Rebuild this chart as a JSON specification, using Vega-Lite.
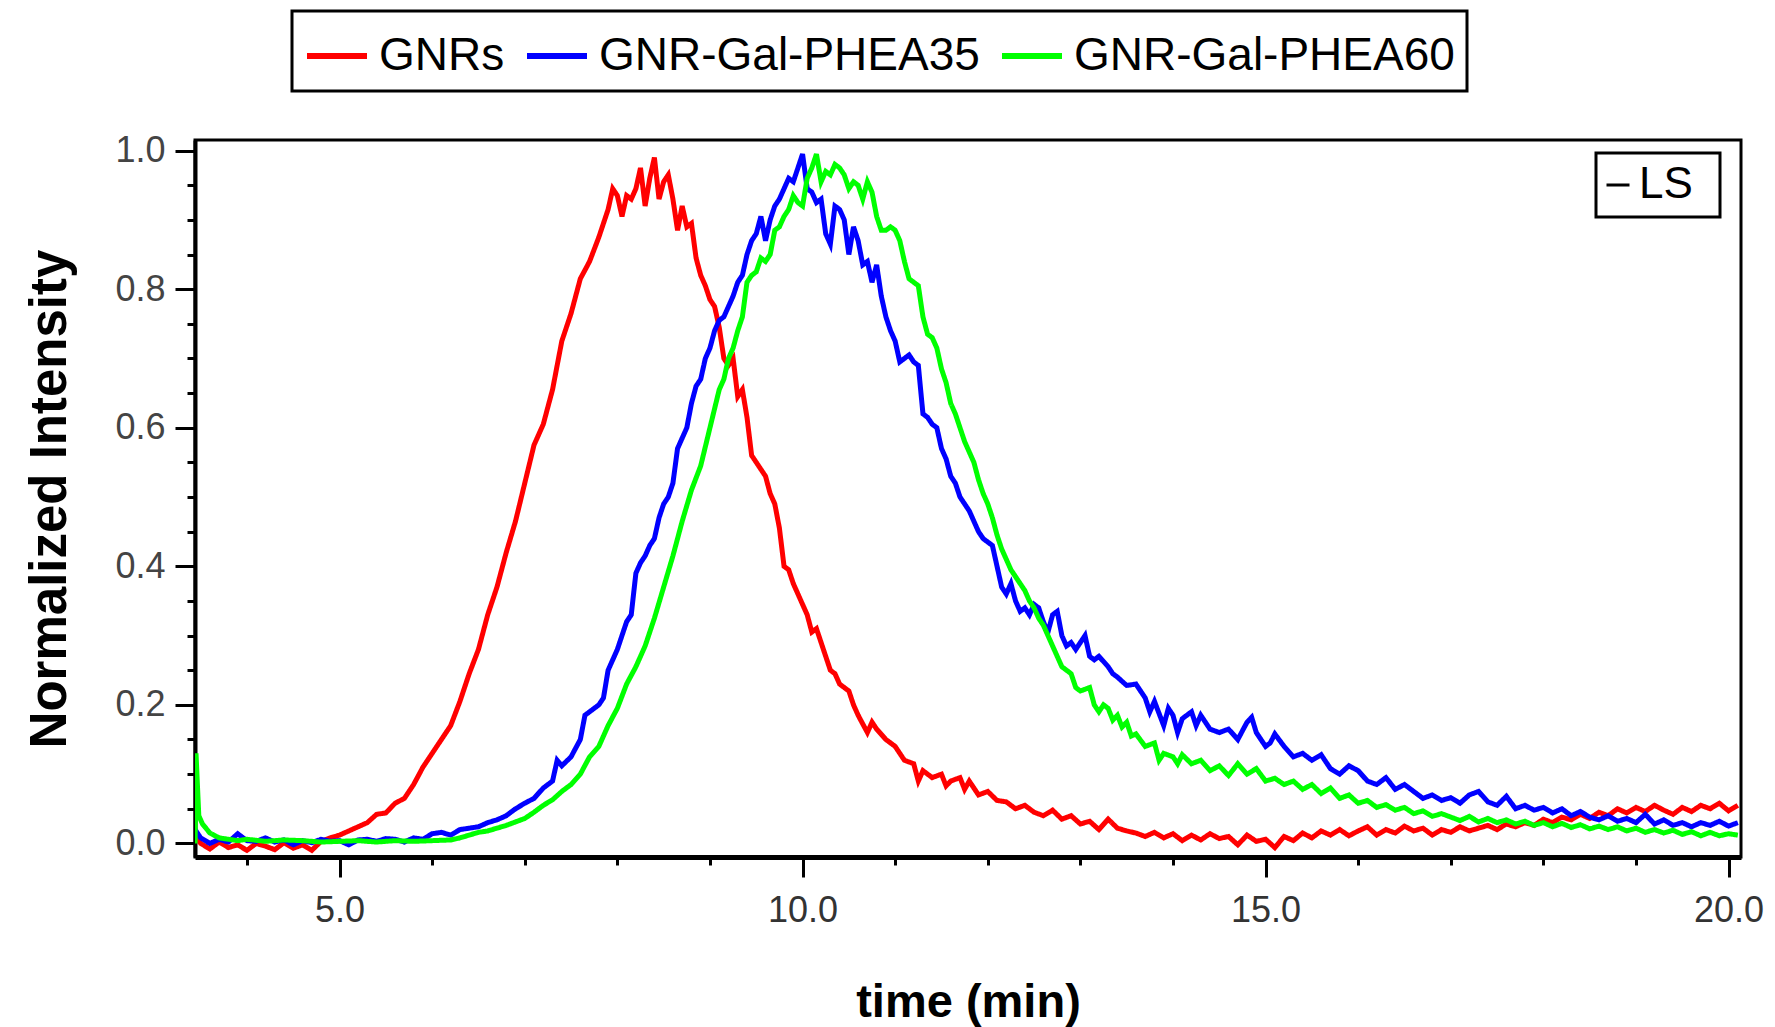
{
"$schema": "https://vega.github.io/schema/vega-lite/v6.json",
"autosize": {"type": "none"},
"padding": {"left": 195, "top": 140, "right": 34, "bottom": 170},
"width": 1546,
"height": 717,
"data": {"values": [
{"s":"GNRs","t":3.44,"v":0.012},{"s":"GNRs","t":3.5,"v":0.0},{"s":"GNRs","t":3.6,"v":-0.008},{"s":"GNRs","t":3.7,"v":0.002},{"s":"GNRs","t":3.8,"v":-0.006},{"s":"GNRs","t":3.9,"v":-0.002},{"s":"GNRs","t":4.0,"v":-0.01},{"s":"GNRs","t":4.1,"v":0.0},{"s":"GNRs","t":4.2,"v":-0.004},{"s":"GNRs","t":4.3,"v":-0.009},{"s":"GNRs","t":4.4,"v":0.001},{"s":"GNRs","t":4.5,"v":-0.007},{"s":"GNRs","t":4.6,"v":-0.002},{"s":"GNRs","t":4.7,"v":-0.01},{"s":"GNRs","t":4.8,"v":0.003},{"s":"GNRs","t":4.9,"v":0.008},{"s":"GNRs","t":5.0,"v":0.012},{"s":"GNRs","t":5.1,"v":0.018},{"s":"GNRs","t":5.2,"v":0.024},{"s":"GNRs","t":5.3,"v":0.03},{"s":"GNRs","t":5.4,"v":0.042},{"s":"GNRs","t":5.5,"v":0.044},{"s":"GNRs","t":5.6,"v":0.058},{"s":"GNRs","t":5.7,"v":0.065},{"s":"GNRs","t":5.8,"v":0.085},{"s":"GNRs","t":5.9,"v":0.11},{"s":"GNRs","t":6.0,"v":0.13},{"s":"GNRs","t":6.1,"v":0.15},{"s":"GNRs","t":6.2,"v":0.17},{"s":"GNRs","t":6.3,"v":0.205},{"s":"GNRs","t":6.4,"v":0.245},{"s":"GNRs","t":6.5,"v":0.28},{"s":"GNRs","t":6.6,"v":0.33},{"s":"GNRs","t":6.7,"v":0.37},{"s":"GNRs","t":6.8,"v":0.42},{"s":"GNRs","t":6.9,"v":0.465},{"s":"GNRs","t":7.0,"v":0.52},{"s":"GNRs","t":7.1,"v":0.575},{"s":"GNRs","t":7.2,"v":0.605},{"s":"GNRs","t":7.3,"v":0.655},{"s":"GNRs","t":7.4,"v":0.725},{"s":"GNRs","t":7.5,"v":0.765},{"s":"GNRs","t":7.6,"v":0.815},{"s":"GNRs","t":7.7,"v":0.84},{"s":"GNRs","t":7.8,"v":0.875},{"s":"GNRs","t":7.9,"v":0.915},{"s":"GNRs","t":7.95,"v":0.945},{"s":"GNRs","t":8.0,"v":0.935},{"s":"GNRs","t":8.05,"v":0.905},{"s":"GNRs","t":8.1,"v":0.935},{"s":"GNRs","t":8.15,"v":0.93},{"s":"GNRs","t":8.2,"v":0.945},{"s":"GNRs","t":8.25,"v":0.975},{"s":"GNRs","t":8.3,"v":0.92},{"s":"GNRs","t":8.35,"v":0.96},{"s":"GNRs","t":8.4,"v":0.99},{"s":"GNRs","t":8.45,"v":0.93},{"s":"GNRs","t":8.5,"v":0.955},{"s":"GNRs","t":8.55,"v":0.965},{"s":"GNRs","t":8.6,"v":0.93},{"s":"GNRs","t":8.65,"v":0.885},{"s":"GNRs","t":8.7,"v":0.92},{"s":"GNRs","t":8.75,"v":0.89},{"s":"GNRs","t":8.8,"v":0.895},{"s":"GNRs","t":8.85,"v":0.845},{"s":"GNRs","t":8.9,"v":0.82},{"s":"GNRs","t":8.95,"v":0.805},{"s":"GNRs","t":9.0,"v":0.785},{"s":"GNRs","t":9.05,"v":0.775},{"s":"GNRs","t":9.1,"v":0.745},{"s":"GNRs","t":9.15,"v":0.7},{"s":"GNRs","t":9.2,"v":0.69},{"s":"GNRs","t":9.25,"v":0.7},{"s":"GNRs","t":9.3,"v":0.645},{"s":"GNRs","t":9.35,"v":0.655},{"s":"GNRs","t":9.4,"v":0.615},{"s":"GNRs","t":9.45,"v":0.56},{"s":"GNRs","t":9.5,"v":0.55},{"s":"GNRs","t":9.55,"v":0.54},{"s":"GNRs","t":9.6,"v":0.53},{"s":"GNRs","t":9.65,"v":0.505},{"s":"GNRs","t":9.7,"v":0.49},{"s":"GNRs","t":9.75,"v":0.455},{"s":"GNRs","t":9.8,"v":0.4},{"s":"GNRs","t":9.85,"v":0.395},{"s":"GNRs","t":9.9,"v":0.375},{"s":"GNRs","t":9.95,"v":0.36},{"s":"GNRs","t":10.0,"v":0.345},{"s":"GNRs","t":10.05,"v":0.33},{"s":"GNRs","t":10.1,"v":0.305},{"s":"GNRs","t":10.15,"v":0.31},{"s":"GNRs","t":10.2,"v":0.29},{"s":"GNRs","t":10.25,"v":0.27},{"s":"GNRs","t":10.3,"v":0.25},{"s":"GNRs","t":10.35,"v":0.245},{"s":"GNRs","t":10.4,"v":0.23},{"s":"GNRs","t":10.5,"v":0.22},{"s":"GNRs","t":10.55,"v":0.2},{"s":"GNRs","t":10.6,"v":0.185},{"s":"GNRs","t":10.7,"v":0.16},{"s":"GNRs","t":10.75,"v":0.175},{"s":"GNRs","t":10.8,"v":0.165},{"s":"GNRs","t":10.9,"v":0.15},{"s":"GNRs","t":11.0,"v":0.14},{"s":"GNRs","t":11.1,"v":0.12},{"s":"GNRs","t":11.2,"v":0.115},{"s":"GNRs","t":11.25,"v":0.09},{"s":"GNRs","t":11.3,"v":0.105},{"s":"GNRs","t":11.4,"v":0.095},{"s":"GNRs","t":11.5,"v":0.1},{"s":"GNRs","t":11.55,"v":0.083},{"s":"GNRs","t":11.6,"v":0.09},{"s":"GNRs","t":11.7,"v":0.095},{"s":"GNRs","t":11.75,"v":0.078},{"s":"GNRs","t":11.8,"v":0.09},{"s":"GNRs","t":11.9,"v":0.07},{"s":"GNRs","t":12.0,"v":0.075},{"s":"GNRs","t":12.1,"v":0.062},{"s":"GNRs","t":12.2,"v":0.06},{"s":"GNRs","t":12.3,"v":0.05},{"s":"GNRs","t":12.4,"v":0.055},{"s":"GNRs","t":12.5,"v":0.045},{"s":"GNRs","t":12.6,"v":0.04},{"s":"GNRs","t":12.7,"v":0.048},{"s":"GNRs","t":12.8,"v":0.035},{"s":"GNRs","t":12.9,"v":0.04},{"s":"GNRs","t":13.0,"v":0.028},{"s":"GNRs","t":13.1,"v":0.032},{"s":"GNRs","t":13.2,"v":0.02},{"s":"GNRs","t":13.3,"v":0.035},{"s":"GNRs","t":13.4,"v":0.022},{"s":"GNRs","t":13.5,"v":0.018},{"s":"GNRs","t":13.6,"v":0.015},{"s":"GNRs","t":13.7,"v":0.01},{"s":"GNRs","t":13.8,"v":0.016},{"s":"GNRs","t":13.9,"v":0.008},{"s":"GNRs","t":14.0,"v":0.014},{"s":"GNRs","t":14.1,"v":0.004},{"s":"GNRs","t":14.2,"v":0.012},{"s":"GNRs","t":14.3,"v":0.005},{"s":"GNRs","t":14.4,"v":0.014},{"s":"GNRs","t":14.5,"v":0.007},{"s":"GNRs","t":14.6,"v":0.01},{"s":"GNRs","t":14.7,"v":-0.002},{"s":"GNRs","t":14.8,"v":0.012},{"s":"GNRs","t":14.9,"v":0.003},{"s":"GNRs","t":15.0,"v":0.006},{"s":"GNRs","t":15.1,"v":-0.006},{"s":"GNRs","t":15.2,"v":0.01},{"s":"GNRs","t":15.3,"v":0.004},{"s":"GNRs","t":15.4,"v":0.015},{"s":"GNRs","t":15.5,"v":0.008},{"s":"GNRs","t":15.6,"v":0.018},{"s":"GNRs","t":15.7,"v":0.012},{"s":"GNRs","t":15.8,"v":0.02},{"s":"GNRs","t":15.9,"v":0.011},{"s":"GNRs","t":16.0,"v":0.018},{"s":"GNRs","t":16.1,"v":0.024},{"s":"GNRs","t":16.2,"v":0.012},{"s":"GNRs","t":16.3,"v":0.02},{"s":"GNRs","t":16.4,"v":0.015},{"s":"GNRs","t":16.5,"v":0.025},{"s":"GNRs","t":16.6,"v":0.018},{"s":"GNRs","t":16.7,"v":0.022},{"s":"GNRs","t":16.8,"v":0.012},{"s":"GNRs","t":16.9,"v":0.02},{"s":"GNRs","t":17.0,"v":0.016},{"s":"GNRs","t":17.1,"v":0.024},{"s":"GNRs","t":17.2,"v":0.018},{"s":"GNRs","t":17.3,"v":0.022},{"s":"GNRs","t":17.4,"v":0.026},{"s":"GNRs","t":17.5,"v":0.02},{"s":"GNRs","t":17.6,"v":0.028},{"s":"GNRs","t":17.7,"v":0.024},{"s":"GNRs","t":17.8,"v":0.03},{"s":"GNRs","t":17.9,"v":0.026},{"s":"GNRs","t":18.0,"v":0.035},{"s":"GNRs","t":18.1,"v":0.03},{"s":"GNRs","t":18.2,"v":0.038},{"s":"GNRs","t":18.3,"v":0.034},{"s":"GNRs","t":18.4,"v":0.042},{"s":"GNRs","t":18.5,"v":0.036},{"s":"GNRs","t":18.6,"v":0.045},{"s":"GNRs","t":18.7,"v":0.04},{"s":"GNRs","t":18.8,"v":0.05},{"s":"GNRs","t":18.9,"v":0.044},{"s":"GNRs","t":19.0,"v":0.052},{"s":"GNRs","t":19.1,"v":0.046},{"s":"GNRs","t":19.2,"v":0.055},{"s":"GNRs","t":19.3,"v":0.048},{"s":"GNRs","t":19.4,"v":0.042},{"s":"GNRs","t":19.5,"v":0.052},{"s":"GNRs","t":19.6,"v":0.046},{"s":"GNRs","t":19.7,"v":0.055},{"s":"GNRs","t":19.8,"v":0.05},{"s":"GNRs","t":19.9,"v":0.058},{"s":"GNRs","t":20.0,"v":0.047},{"s":"GNRs","t":20.1,"v":0.055},
{"s":"GNR-Gal-PHEA35","t":3.44,"v":0.02},{"s":"GNR-Gal-PHEA35","t":3.5,"v":0.008},{"s":"GNR-Gal-PHEA35","t":3.6,"v":0.0},{"s":"GNR-Gal-PHEA35","t":3.7,"v":0.006},{"s":"GNR-Gal-PHEA35","t":3.8,"v":0.002},{"s":"GNR-Gal-PHEA35","t":3.9,"v":0.014},{"s":"GNR-Gal-PHEA35","t":4.0,"v":0.004},{"s":"GNR-Gal-PHEA35","t":4.1,"v":0.003},{"s":"GNR-Gal-PHEA35","t":4.2,"v":0.008},{"s":"GNR-Gal-PHEA35","t":4.3,"v":0.002},{"s":"GNR-Gal-PHEA35","t":4.4,"v":0.005},{"s":"GNR-Gal-PHEA35","t":4.5,"v":-0.002},{"s":"GNR-Gal-PHEA35","t":4.6,"v":0.004},{"s":"GNR-Gal-PHEA35","t":4.7,"v":0.001},{"s":"GNR-Gal-PHEA35","t":4.8,"v":0.006},{"s":"GNR-Gal-PHEA35","t":4.9,"v":0.003},{"s":"GNR-Gal-PHEA35","t":5.0,"v":0.004},{"s":"GNR-Gal-PHEA35","t":5.1,"v":-0.002},{"s":"GNR-Gal-PHEA35","t":5.2,"v":0.005},{"s":"GNR-Gal-PHEA35","t":5.3,"v":0.006},{"s":"GNR-Gal-PHEA35","t":5.4,"v":0.003},{"s":"GNR-Gal-PHEA35","t":5.5,"v":0.007},{"s":"GNR-Gal-PHEA35","t":5.6,"v":0.006},{"s":"GNR-Gal-PHEA35","t":5.7,"v":0.002},{"s":"GNR-Gal-PHEA35","t":5.8,"v":0.008},{"s":"GNR-Gal-PHEA35","t":5.9,"v":0.006},{"s":"GNR-Gal-PHEA35","t":6.0,"v":0.014},{"s":"GNR-Gal-PHEA35","t":6.1,"v":0.016},{"s":"GNR-Gal-PHEA35","t":6.2,"v":0.012},{"s":"GNR-Gal-PHEA35","t":6.3,"v":0.02},{"s":"GNR-Gal-PHEA35","t":6.4,"v":0.022},{"s":"GNR-Gal-PHEA35","t":6.5,"v":0.024},{"s":"GNR-Gal-PHEA35","t":6.6,"v":0.03},{"s":"GNR-Gal-PHEA35","t":6.7,"v":0.034},{"s":"GNR-Gal-PHEA35","t":6.8,"v":0.04},{"s":"GNR-Gal-PHEA35","t":6.9,"v":0.05},{"s":"GNR-Gal-PHEA35","t":7.0,"v":0.058},{"s":"GNR-Gal-PHEA35","t":7.1,"v":0.065},{"s":"GNR-Gal-PHEA35","t":7.2,"v":0.08},{"s":"GNR-Gal-PHEA35","t":7.3,"v":0.09},{"s":"GNR-Gal-PHEA35","t":7.35,"v":0.12},{"s":"GNR-Gal-PHEA35","t":7.4,"v":0.112},{"s":"GNR-Gal-PHEA35","t":7.5,"v":0.125},{"s":"GNR-Gal-PHEA35","t":7.6,"v":0.15},{"s":"GNR-Gal-PHEA35","t":7.65,"v":0.185},{"s":"GNR-Gal-PHEA35","t":7.7,"v":0.19},{"s":"GNR-Gal-PHEA35","t":7.8,"v":0.2},{"s":"GNR-Gal-PHEA35","t":7.85,"v":0.21},{"s":"GNR-Gal-PHEA35","t":7.9,"v":0.25},{"s":"GNR-Gal-PHEA35","t":8.0,"v":0.28},{"s":"GNR-Gal-PHEA35","t":8.05,"v":0.3},{"s":"GNR-Gal-PHEA35","t":8.1,"v":0.32},{"s":"GNR-Gal-PHEA35","t":8.15,"v":0.33},{"s":"GNR-Gal-PHEA35","t":8.2,"v":0.39},{"s":"GNR-Gal-PHEA35","t":8.25,"v":0.405},{"s":"GNR-Gal-PHEA35","t":8.3,"v":0.415},{"s":"GNR-Gal-PHEA35","t":8.35,"v":0.43},{"s":"GNR-Gal-PHEA35","t":8.4,"v":0.44},{"s":"GNR-Gal-PHEA35","t":8.45,"v":0.47},{"s":"GNR-Gal-PHEA35","t":8.5,"v":0.49},{"s":"GNR-Gal-PHEA35","t":8.55,"v":0.5},{"s":"GNR-Gal-PHEA35","t":8.6,"v":0.52},{"s":"GNR-Gal-PHEA35","t":8.65,"v":0.57},{"s":"GNR-Gal-PHEA35","t":8.7,"v":0.585},{"s":"GNR-Gal-PHEA35","t":8.75,"v":0.6},{"s":"GNR-Gal-PHEA35","t":8.8,"v":0.635},{"s":"GNR-Gal-PHEA35","t":8.85,"v":0.66},{"s":"GNR-Gal-PHEA35","t":8.9,"v":0.67},{"s":"GNR-Gal-PHEA35","t":8.95,"v":0.7},{"s":"GNR-Gal-PHEA35","t":9.0,"v":0.715},{"s":"GNR-Gal-PHEA35","t":9.05,"v":0.74},{"s":"GNR-Gal-PHEA35","t":9.1,"v":0.755},{"s":"GNR-Gal-PHEA35","t":9.15,"v":0.76},{"s":"GNR-Gal-PHEA35","t":9.2,"v":0.775},{"s":"GNR-Gal-PHEA35","t":9.25,"v":0.79},{"s":"GNR-Gal-PHEA35","t":9.3,"v":0.81},{"s":"GNR-Gal-PHEA35","t":9.35,"v":0.82},{"s":"GNR-Gal-PHEA35","t":9.4,"v":0.85},{"s":"GNR-Gal-PHEA35","t":9.45,"v":0.87},{"s":"GNR-Gal-PHEA35","t":9.5,"v":0.88},{"s":"GNR-Gal-PHEA35","t":9.55,"v":0.905},{"s":"GNR-Gal-PHEA35","t":9.6,"v":0.87},{"s":"GNR-Gal-PHEA35","t":9.65,"v":0.9},{"s":"GNR-Gal-PHEA35","t":9.7,"v":0.92},{"s":"GNR-Gal-PHEA35","t":9.75,"v":0.93},{"s":"GNR-Gal-PHEA35","t":9.8,"v":0.945},{"s":"GNR-Gal-PHEA35","t":9.85,"v":0.96},{"s":"GNR-Gal-PHEA35","t":9.9,"v":0.955},{"s":"GNR-Gal-PHEA35","t":9.95,"v":0.975},{"s":"GNR-Gal-PHEA35","t":10.0,"v":0.995},{"s":"GNR-Gal-PHEA35","t":10.05,"v":0.945},{"s":"GNR-Gal-PHEA35","t":10.1,"v":0.94},{"s":"GNR-Gal-PHEA35","t":10.15,"v":0.925},{"s":"GNR-Gal-PHEA35","t":10.2,"v":0.93},{"s":"GNR-Gal-PHEA35","t":10.25,"v":0.88},{"s":"GNR-Gal-PHEA35","t":10.3,"v":0.865},{"s":"GNR-Gal-PHEA35","t":10.35,"v":0.92},{"s":"GNR-Gal-PHEA35","t":10.4,"v":0.915},{"s":"GNR-Gal-PHEA35","t":10.45,"v":0.9},{"s":"GNR-Gal-PHEA35","t":10.5,"v":0.85},{"s":"GNR-Gal-PHEA35","t":10.55,"v":0.89},{"s":"GNR-Gal-PHEA35","t":10.6,"v":0.87},{"s":"GNR-Gal-PHEA35","t":10.65,"v":0.835},{"s":"GNR-Gal-PHEA35","t":10.7,"v":0.84},{"s":"GNR-Gal-PHEA35","t":10.75,"v":0.81},{"s":"GNR-Gal-PHEA35","t":10.8,"v":0.835},{"s":"GNR-Gal-PHEA35","t":10.85,"v":0.79},{"s":"GNR-Gal-PHEA35","t":10.9,"v":0.76},{"s":"GNR-Gal-PHEA35","t":10.95,"v":0.74},{"s":"GNR-Gal-PHEA35","t":11.0,"v":0.725},{"s":"GNR-Gal-PHEA35","t":11.05,"v":0.695},{"s":"GNR-Gal-PHEA35","t":11.1,"v":0.7},{"s":"GNR-Gal-PHEA35","t":11.15,"v":0.705},{"s":"GNR-Gal-PHEA35","t":11.2,"v":0.695},{"s":"GNR-Gal-PHEA35","t":11.25,"v":0.69},{"s":"GNR-Gal-PHEA35","t":11.3,"v":0.62},{"s":"GNR-Gal-PHEA35","t":11.35,"v":0.615},{"s":"GNR-Gal-PHEA35","t":11.4,"v":0.605},{"s":"GNR-Gal-PHEA35","t":11.45,"v":0.6},{"s":"GNR-Gal-PHEA35","t":11.5,"v":0.57},{"s":"GNR-Gal-PHEA35","t":11.55,"v":0.555},{"s":"GNR-Gal-PHEA35","t":11.6,"v":0.53},{"s":"GNR-Gal-PHEA35","t":11.65,"v":0.52},{"s":"GNR-Gal-PHEA35","t":11.7,"v":0.5},{"s":"GNR-Gal-PHEA35","t":11.75,"v":0.49},{"s":"GNR-Gal-PHEA35","t":11.8,"v":0.48},{"s":"GNR-Gal-PHEA35","t":11.85,"v":0.465},{"s":"GNR-Gal-PHEA35","t":11.9,"v":0.45},{"s":"GNR-Gal-PHEA35","t":11.95,"v":0.44},{"s":"GNR-Gal-PHEA35","t":12.0,"v":0.435},{"s":"GNR-Gal-PHEA35","t":12.05,"v":0.43},{"s":"GNR-Gal-PHEA35","t":12.1,"v":0.4},{"s":"GNR-Gal-PHEA35","t":12.15,"v":0.37},{"s":"GNR-Gal-PHEA35","t":12.2,"v":0.36},{"s":"GNR-Gal-PHEA35","t":12.25,"v":0.375},{"s":"GNR-Gal-PHEA35","t":12.3,"v":0.35},{"s":"GNR-Gal-PHEA35","t":12.35,"v":0.335},{"s":"GNR-Gal-PHEA35","t":12.4,"v":0.34},{"s":"GNR-Gal-PHEA35","t":12.45,"v":0.33},{"s":"GNR-Gal-PHEA35","t":12.5,"v":0.345},{"s":"GNR-Gal-PHEA35","t":12.55,"v":0.34},{"s":"GNR-Gal-PHEA35","t":12.6,"v":0.32},{"s":"GNR-Gal-PHEA35","t":12.65,"v":0.305},{"s":"GNR-Gal-PHEA35","t":12.7,"v":0.33},{"s":"GNR-Gal-PHEA35","t":12.75,"v":0.335},{"s":"GNR-Gal-PHEA35","t":12.8,"v":0.3},{"s":"GNR-Gal-PHEA35","t":12.85,"v":0.285},{"s":"GNR-Gal-PHEA35","t":12.9,"v":0.29},{"s":"GNR-Gal-PHEA35","t":12.95,"v":0.28},{"s":"GNR-Gal-PHEA35","t":13.0,"v":0.29},{"s":"GNR-Gal-PHEA35","t":13.05,"v":0.3},{"s":"GNR-Gal-PHEA35","t":13.1,"v":0.27},{"s":"GNR-Gal-PHEA35","t":13.15,"v":0.265},{"s":"GNR-Gal-PHEA35","t":13.2,"v":0.27},{"s":"GNR-Gal-PHEA35","t":13.3,"v":0.255},{"s":"GNR-Gal-PHEA35","t":13.35,"v":0.245},{"s":"GNR-Gal-PHEA35","t":13.4,"v":0.24},{"s":"GNR-Gal-PHEA35","t":13.5,"v":0.228},{"s":"GNR-Gal-PHEA35","t":13.6,"v":0.23},{"s":"GNR-Gal-PHEA35","t":13.7,"v":0.21},{"s":"GNR-Gal-PHEA35","t":13.75,"v":0.19},{"s":"GNR-Gal-PHEA35","t":13.8,"v":0.205},{"s":"GNR-Gal-PHEA35","t":13.9,"v":0.17},{"s":"GNR-Gal-PHEA35","t":13.95,"v":0.195},{"s":"GNR-Gal-PHEA35","t":14.0,"v":0.185},{"s":"GNR-Gal-PHEA35","t":14.05,"v":0.16},{"s":"GNR-Gal-PHEA35","t":14.1,"v":0.18},{"s":"GNR-Gal-PHEA35","t":14.2,"v":0.19},{"s":"GNR-Gal-PHEA35","t":14.25,"v":0.17},{"s":"GNR-Gal-PHEA35","t":14.3,"v":0.185},{"s":"GNR-Gal-PHEA35","t":14.4,"v":0.165},{"s":"GNR-Gal-PHEA35","t":14.5,"v":0.16},{"s":"GNR-Gal-PHEA35","t":14.6,"v":0.165},{"s":"GNR-Gal-PHEA35","t":14.7,"v":0.15},{"s":"GNR-Gal-PHEA35","t":14.8,"v":0.175},{"s":"GNR-Gal-PHEA35","t":14.85,"v":0.182},{"s":"GNR-Gal-PHEA35","t":14.9,"v":0.16},{"s":"GNR-Gal-PHEA35","t":15.0,"v":0.14},{"s":"GNR-Gal-PHEA35","t":15.05,"v":0.145},{"s":"GNR-Gal-PHEA35","t":15.1,"v":0.158},{"s":"GNR-Gal-PHEA35","t":15.2,"v":0.14},{"s":"GNR-Gal-PHEA35","t":15.3,"v":0.125},{"s":"GNR-Gal-PHEA35","t":15.4,"v":0.13},{"s":"GNR-Gal-PHEA35","t":15.5,"v":0.12},{"s":"GNR-Gal-PHEA35","t":15.6,"v":0.128},{"s":"GNR-Gal-PHEA35","t":15.7,"v":0.108},{"s":"GNR-Gal-PHEA35","t":15.8,"v":0.1},{"s":"GNR-Gal-PHEA35","t":15.9,"v":0.112},{"s":"GNR-Gal-PHEA35","t":16.0,"v":0.105},{"s":"GNR-Gal-PHEA35","t":16.1,"v":0.09},{"s":"GNR-Gal-PHEA35","t":16.2,"v":0.085},{"s":"GNR-Gal-PHEA35","t":16.3,"v":0.095},{"s":"GNR-Gal-PHEA35","t":16.4,"v":0.078},{"s":"GNR-Gal-PHEA35","t":16.5,"v":0.085},{"s":"GNR-Gal-PHEA35","t":16.6,"v":0.075},{"s":"GNR-Gal-PHEA35","t":16.7,"v":0.065},{"s":"GNR-Gal-PHEA35","t":16.8,"v":0.07},{"s":"GNR-Gal-PHEA35","t":16.9,"v":0.062},{"s":"GNR-Gal-PHEA35","t":17.0,"v":0.066},{"s":"GNR-Gal-PHEA35","t":17.1,"v":0.058},{"s":"GNR-Gal-PHEA35","t":17.2,"v":0.07},{"s":"GNR-Gal-PHEA35","t":17.3,"v":0.075},{"s":"GNR-Gal-PHEA35","t":17.4,"v":0.06},{"s":"GNR-Gal-PHEA35","t":17.5,"v":0.055},{"s":"GNR-Gal-PHEA35","t":17.6,"v":0.068},{"s":"GNR-Gal-PHEA35","t":17.7,"v":0.05},{"s":"GNR-Gal-PHEA35","t":17.8,"v":0.055},{"s":"GNR-Gal-PHEA35","t":17.9,"v":0.048},{"s":"GNR-Gal-PHEA35","t":18.0,"v":0.052},{"s":"GNR-Gal-PHEA35","t":18.1,"v":0.044},{"s":"GNR-Gal-PHEA35","t":18.2,"v":0.05},{"s":"GNR-Gal-PHEA35","t":18.3,"v":0.04},{"s":"GNR-Gal-PHEA35","t":18.4,"v":0.046},{"s":"GNR-Gal-PHEA35","t":18.5,"v":0.038},{"s":"GNR-Gal-PHEA35","t":18.6,"v":0.034},{"s":"GNR-Gal-PHEA35","t":18.7,"v":0.04},{"s":"GNR-Gal-PHEA35","t":18.8,"v":0.032},{"s":"GNR-Gal-PHEA35","t":18.9,"v":0.036},{"s":"GNR-Gal-PHEA35","t":19.0,"v":0.03},{"s":"GNR-Gal-PHEA35","t":19.1,"v":0.042},{"s":"GNR-Gal-PHEA35","t":19.2,"v":0.028},{"s":"GNR-Gal-PHEA35","t":19.3,"v":0.034},{"s":"GNR-Gal-PHEA35","t":19.4,"v":0.026},{"s":"GNR-Gal-PHEA35","t":19.5,"v":0.03},{"s":"GNR-Gal-PHEA35","t":19.6,"v":0.024},{"s":"GNR-Gal-PHEA35","t":19.7,"v":0.03},{"s":"GNR-Gal-PHEA35","t":19.8,"v":0.026},{"s":"GNR-Gal-PHEA35","t":19.9,"v":0.032},{"s":"GNR-Gal-PHEA35","t":20.0,"v":0.025},{"s":"GNR-Gal-PHEA35","t":20.1,"v":0.03},
{"s":"GNR-Gal-PHEA60","t":3.44,"v":0.0},{"s":"GNR-Gal-PHEA60","t":3.45,"v":0.13},{"s":"GNR-Gal-PHEA60","t":3.48,"v":0.04},{"s":"GNR-Gal-PHEA60","t":3.52,"v":0.028},{"s":"GNR-Gal-PHEA60","t":3.6,"v":0.015},{"s":"GNR-Gal-PHEA60","t":3.7,"v":0.008},{"s":"GNR-Gal-PHEA60","t":3.8,"v":0.006},{"s":"GNR-Gal-PHEA60","t":3.9,"v":0.004},{"s":"GNR-Gal-PHEA60","t":4.0,"v":0.006},{"s":"GNR-Gal-PHEA60","t":4.2,"v":0.003},{"s":"GNR-Gal-PHEA60","t":4.4,"v":0.005},{"s":"GNR-Gal-PHEA60","t":4.6,"v":0.004},{"s":"GNR-Gal-PHEA60","t":4.8,"v":0.002},{"s":"GNR-Gal-PHEA60","t":5.0,"v":0.003},{"s":"GNR-Gal-PHEA60","t":5.2,"v":0.004},{"s":"GNR-Gal-PHEA60","t":5.4,"v":0.002},{"s":"GNR-Gal-PHEA60","t":5.6,"v":0.004},{"s":"GNR-Gal-PHEA60","t":5.8,"v":0.003},{"s":"GNR-Gal-PHEA60","t":6.0,"v":0.004},{"s":"GNR-Gal-PHEA60","t":6.2,"v":0.005},{"s":"GNR-Gal-PHEA60","t":6.3,"v":0.008},{"s":"GNR-Gal-PHEA60","t":6.4,"v":0.012},{"s":"GNR-Gal-PHEA60","t":6.5,"v":0.016},{"s":"GNR-Gal-PHEA60","t":6.6,"v":0.018},{"s":"GNR-Gal-PHEA60","t":6.7,"v":0.022},{"s":"GNR-Gal-PHEA60","t":6.8,"v":0.026},{"s":"GNR-Gal-PHEA60","t":6.9,"v":0.031},{"s":"GNR-Gal-PHEA60","t":7.0,"v":0.036},{"s":"GNR-Gal-PHEA60","t":7.1,"v":0.045},{"s":"GNR-Gal-PHEA60","t":7.2,"v":0.055},{"s":"GNR-Gal-PHEA60","t":7.3,"v":0.063},{"s":"GNR-Gal-PHEA60","t":7.4,"v":0.075},{"s":"GNR-Gal-PHEA60","t":7.5,"v":0.085},{"s":"GNR-Gal-PHEA60","t":7.6,"v":0.1},{"s":"GNR-Gal-PHEA60","t":7.7,"v":0.125},{"s":"GNR-Gal-PHEA60","t":7.8,"v":0.14},{"s":"GNR-Gal-PHEA60","t":7.9,"v":0.17},{"s":"GNR-Gal-PHEA60","t":8.0,"v":0.195},{"s":"GNR-Gal-PHEA60","t":8.1,"v":0.23},{"s":"GNR-Gal-PHEA60","t":8.2,"v":0.255},{"s":"GNR-Gal-PHEA60","t":8.3,"v":0.285},{"s":"GNR-Gal-PHEA60","t":8.4,"v":0.325},{"s":"GNR-Gal-PHEA60","t":8.5,"v":0.37},{"s":"GNR-Gal-PHEA60","t":8.6,"v":0.415},{"s":"GNR-Gal-PHEA60","t":8.7,"v":0.465},{"s":"GNR-Gal-PHEA60","t":8.8,"v":0.51},{"s":"GNR-Gal-PHEA60","t":8.9,"v":0.545},{"s":"GNR-Gal-PHEA60","t":9.0,"v":0.6},{"s":"GNR-Gal-PHEA60","t":9.1,"v":0.655},{"s":"GNR-Gal-PHEA60","t":9.15,"v":0.67},{"s":"GNR-Gal-PHEA60","t":9.2,"v":0.7},{"s":"GNR-Gal-PHEA60","t":9.25,"v":0.715},{"s":"GNR-Gal-PHEA60","t":9.3,"v":0.74},{"s":"GNR-Gal-PHEA60","t":9.35,"v":0.76},{"s":"GNR-Gal-PHEA60","t":9.4,"v":0.81},{"s":"GNR-Gal-PHEA60","t":9.45,"v":0.82},{"s":"GNR-Gal-PHEA60","t":9.5,"v":0.825},{"s":"GNR-Gal-PHEA60","t":9.55,"v":0.845},{"s":"GNR-Gal-PHEA60","t":9.6,"v":0.84},{"s":"GNR-Gal-PHEA60","t":9.65,"v":0.85},{"s":"GNR-Gal-PHEA60","t":9.7,"v":0.885},{"s":"GNR-Gal-PHEA60","t":9.75,"v":0.89},{"s":"GNR-Gal-PHEA60","t":9.8,"v":0.905},{"s":"GNR-Gal-PHEA60","t":9.85,"v":0.915},{"s":"GNR-Gal-PHEA60","t":9.9,"v":0.935},{"s":"GNR-Gal-PHEA60","t":9.95,"v":0.925},{"s":"GNR-Gal-PHEA60","t":10.0,"v":0.92},{"s":"GNR-Gal-PHEA60","t":10.05,"v":0.96},{"s":"GNR-Gal-PHEA60","t":10.1,"v":0.975},{"s":"GNR-Gal-PHEA60","t":10.15,"v":0.995},{"s":"GNR-Gal-PHEA60","t":10.2,"v":0.955},{"s":"GNR-Gal-PHEA60","t":10.25,"v":0.97},{"s":"GNR-Gal-PHEA60","t":10.3,"v":0.965},{"s":"GNR-Gal-PHEA60","t":10.35,"v":0.98},{"s":"GNR-Gal-PHEA60","t":10.4,"v":0.975},{"s":"GNR-Gal-PHEA60","t":10.45,"v":0.965},{"s":"GNR-Gal-PHEA60","t":10.5,"v":0.945},{"s":"GNR-Gal-PHEA60","t":10.55,"v":0.955},{"s":"GNR-Gal-PHEA60","t":10.6,"v":0.95},{"s":"GNR-Gal-PHEA60","t":10.65,"v":0.93},{"s":"GNR-Gal-PHEA60","t":10.7,"v":0.955},{"s":"GNR-Gal-PHEA60","t":10.75,"v":0.94},{"s":"GNR-Gal-PHEA60","t":10.8,"v":0.905},{"s":"GNR-Gal-PHEA60","t":10.85,"v":0.885},{"s":"GNR-Gal-PHEA60","t":10.9,"v":0.885},{"s":"GNR-Gal-PHEA60","t":10.95,"v":0.89},{"s":"GNR-Gal-PHEA60","t":11.0,"v":0.885},{"s":"GNR-Gal-PHEA60","t":11.05,"v":0.87},{"s":"GNR-Gal-PHEA60","t":11.1,"v":0.84},{"s":"GNR-Gal-PHEA60","t":11.15,"v":0.815},{"s":"GNR-Gal-PHEA60","t":11.2,"v":0.81},{"s":"GNR-Gal-PHEA60","t":11.25,"v":0.805},{"s":"GNR-Gal-PHEA60","t":11.3,"v":0.76},{"s":"GNR-Gal-PHEA60","t":11.35,"v":0.735},{"s":"GNR-Gal-PHEA60","t":11.4,"v":0.73},{"s":"GNR-Gal-PHEA60","t":11.45,"v":0.715},{"s":"GNR-Gal-PHEA60","t":11.5,"v":0.685},{"s":"GNR-Gal-PHEA60","t":11.55,"v":0.665},{"s":"GNR-Gal-PHEA60","t":11.6,"v":0.635},{"s":"GNR-Gal-PHEA60","t":11.65,"v":0.62},{"s":"GNR-Gal-PHEA60","t":11.7,"v":0.6},{"s":"GNR-Gal-PHEA60","t":11.75,"v":0.58},{"s":"GNR-Gal-PHEA60","t":11.8,"v":0.565},{"s":"GNR-Gal-PHEA60","t":11.85,"v":0.55},{"s":"GNR-Gal-PHEA60","t":11.9,"v":0.525},{"s":"GNR-Gal-PHEA60","t":11.95,"v":0.505},{"s":"GNR-Gal-PHEA60","t":12.0,"v":0.49},{"s":"GNR-Gal-PHEA60","t":12.05,"v":0.47},{"s":"GNR-Gal-PHEA60","t":12.1,"v":0.445},{"s":"GNR-Gal-PHEA60","t":12.15,"v":0.425},{"s":"GNR-Gal-PHEA60","t":12.2,"v":0.41},{"s":"GNR-Gal-PHEA60","t":12.25,"v":0.395},{"s":"GNR-Gal-PHEA60","t":12.3,"v":0.385},{"s":"GNR-Gal-PHEA60","t":12.35,"v":0.375},{"s":"GNR-Gal-PHEA60","t":12.4,"v":0.365},{"s":"GNR-Gal-PHEA60","t":12.45,"v":0.35},{"s":"GNR-Gal-PHEA60","t":12.5,"v":0.34},{"s":"GNR-Gal-PHEA60","t":12.55,"v":0.325},{"s":"GNR-Gal-PHEA60","t":12.6,"v":0.315},{"s":"GNR-Gal-PHEA60","t":12.65,"v":0.3},{"s":"GNR-Gal-PHEA60","t":12.7,"v":0.285},{"s":"GNR-Gal-PHEA60","t":12.75,"v":0.27},{"s":"GNR-Gal-PHEA60","t":12.8,"v":0.255},{"s":"GNR-Gal-PHEA60","t":12.85,"v":0.25},{"s":"GNR-Gal-PHEA60","t":12.9,"v":0.245},{"s":"GNR-Gal-PHEA60","t":12.95,"v":0.225},{"s":"GNR-Gal-PHEA60","t":13.0,"v":0.22},{"s":"GNR-Gal-PHEA60","t":13.1,"v":0.225},{"s":"GNR-Gal-PHEA60","t":13.15,"v":0.2},{"s":"GNR-Gal-PHEA60","t":13.2,"v":0.19},{"s":"GNR-Gal-PHEA60","t":13.25,"v":0.2},{"s":"GNR-Gal-PHEA60","t":13.3,"v":0.195},{"s":"GNR-Gal-PHEA60","t":13.35,"v":0.178},{"s":"GNR-Gal-PHEA60","t":13.4,"v":0.185},{"s":"GNR-Gal-PHEA60","t":13.45,"v":0.168},{"s":"GNR-Gal-PHEA60","t":13.5,"v":0.175},{"s":"GNR-Gal-PHEA60","t":13.55,"v":0.155},{"s":"GNR-Gal-PHEA60","t":13.6,"v":0.158},{"s":"GNR-Gal-PHEA60","t":13.7,"v":0.14},{"s":"GNR-Gal-PHEA60","t":13.8,"v":0.145},{"s":"GNR-Gal-PHEA60","t":13.85,"v":0.12},{"s":"GNR-Gal-PHEA60","t":13.9,"v":0.13},{"s":"GNR-Gal-PHEA60","t":14.0,"v":0.125},{"s":"GNR-Gal-PHEA60","t":14.05,"v":0.115},{"s":"GNR-Gal-PHEA60","t":14.1,"v":0.128},{"s":"GNR-Gal-PHEA60","t":14.2,"v":0.115},{"s":"GNR-Gal-PHEA60","t":14.3,"v":0.12},{"s":"GNR-Gal-PHEA60","t":14.4,"v":0.105},{"s":"GNR-Gal-PHEA60","t":14.5,"v":0.112},{"s":"GNR-Gal-PHEA60","t":14.6,"v":0.098},{"s":"GNR-Gal-PHEA60","t":14.7,"v":0.115},{"s":"GNR-Gal-PHEA60","t":14.8,"v":0.1},{"s":"GNR-Gal-PHEA60","t":14.9,"v":0.108},{"s":"GNR-Gal-PHEA60","t":15.0,"v":0.09},{"s":"GNR-Gal-PHEA60","t":15.1,"v":0.094},{"s":"GNR-Gal-PHEA60","t":15.2,"v":0.085},{"s":"GNR-Gal-PHEA60","t":15.3,"v":0.09},{"s":"GNR-Gal-PHEA60","t":15.4,"v":0.078},{"s":"GNR-Gal-PHEA60","t":15.5,"v":0.085},{"s":"GNR-Gal-PHEA60","t":15.6,"v":0.072},{"s":"GNR-Gal-PHEA60","t":15.7,"v":0.08},{"s":"GNR-Gal-PHEA60","t":15.8,"v":0.065},{"s":"GNR-Gal-PHEA60","t":15.9,"v":0.07},{"s":"GNR-Gal-PHEA60","t":16.0,"v":0.058},{"s":"GNR-Gal-PHEA60","t":16.1,"v":0.062},{"s":"GNR-Gal-PHEA60","t":16.2,"v":0.052},{"s":"GNR-Gal-PHEA60","t":16.3,"v":0.056},{"s":"GNR-Gal-PHEA60","t":16.4,"v":0.048},{"s":"GNR-Gal-PHEA60","t":16.5,"v":0.052},{"s":"GNR-Gal-PHEA60","t":16.6,"v":0.043},{"s":"GNR-Gal-PHEA60","t":16.7,"v":0.047},{"s":"GNR-Gal-PHEA60","t":16.8,"v":0.039},{"s":"GNR-Gal-PHEA60","t":16.9,"v":0.043},{"s":"GNR-Gal-PHEA60","t":17.0,"v":0.038},{"s":"GNR-Gal-PHEA60","t":17.1,"v":0.033},{"s":"GNR-Gal-PHEA60","t":17.2,"v":0.039},{"s":"GNR-Gal-PHEA60","t":17.3,"v":0.031},{"s":"GNR-Gal-PHEA60","t":17.4,"v":0.036},{"s":"GNR-Gal-PHEA60","t":17.5,"v":0.03},{"s":"GNR-Gal-PHEA60","t":17.6,"v":0.034},{"s":"GNR-Gal-PHEA60","t":17.7,"v":0.028},{"s":"GNR-Gal-PHEA60","t":17.8,"v":0.032},{"s":"GNR-Gal-PHEA60","t":17.9,"v":0.026},{"s":"GNR-Gal-PHEA60","t":18.0,"v":0.03},{"s":"GNR-Gal-PHEA60","t":18.1,"v":0.024},{"s":"GNR-Gal-PHEA60","t":18.2,"v":0.029},{"s":"GNR-Gal-PHEA60","t":18.3,"v":0.023},{"s":"GNR-Gal-PHEA60","t":18.4,"v":0.027},{"s":"GNR-Gal-PHEA60","t":18.5,"v":0.021},{"s":"GNR-Gal-PHEA60","t":18.6,"v":0.025},{"s":"GNR-Gal-PHEA60","t":18.7,"v":0.02},{"s":"GNR-Gal-PHEA60","t":18.8,"v":0.024},{"s":"GNR-Gal-PHEA60","t":18.9,"v":0.018},{"s":"GNR-Gal-PHEA60","t":19.0,"v":0.022},{"s":"GNR-Gal-PHEA60","t":19.1,"v":0.016},{"s":"GNR-Gal-PHEA60","t":19.2,"v":0.02},{"s":"GNR-Gal-PHEA60","t":19.3,"v":0.015},{"s":"GNR-Gal-PHEA60","t":19.4,"v":0.019},{"s":"GNR-Gal-PHEA60","t":19.5,"v":0.013},{"s":"GNR-Gal-PHEA60","t":19.6,"v":0.017},{"s":"GNR-Gal-PHEA60","t":19.7,"v":0.011},{"s":"GNR-Gal-PHEA60","t":19.8,"v":0.016},{"s":"GNR-Gal-PHEA60","t":19.9,"v":0.011},{"s":"GNR-Gal-PHEA60","t":20.0,"v":0.014},{"s":"GNR-Gal-PHEA60","t":20.1,"v":0.012}
]},
"mark": {"type": "line", "strokeWidth": 5, "clip": true},
"encoding": {
  "x": {"field": "t", "type": "quantitative",
    "scale": {"domain": [3.439, 20.134], "nice": false, "zero": false},
    "axis": {"title": "time (min)", "values": [4,5,6,7,8,9,10,11,12,13,14,15,16,17,18,19,20],
      "tickSize": {"condition": {"test": "datum.value % 5 === 0", "value": 20}, "value": 8},
      "labelExpr": "datum.value % 5 === 0 ? format(datum.value, '.1f') : ''",
      "labelFontSize": 36, "labelColor": "#333333", "labelPadding": 16, "labelFlush": false, "labelOverlap": false, "labelBound": false,
      "domainColor": "black", "domainWidth": 5, "tickColor": "black", "tickWidth": 3, "grid": false,
      "titleFontSize": 47, "titleFontWeight": "bold", "titleColor": "black", "titlePadding": 51}},
  "y": {"field": "v", "type": "quantitative",
    "scale": {"domain": [-0.0196, 1.0153], "nice": false, "zero": false},
    "axis": {"title": "Normalized Intensity", "values": [0,0.05,0.1,0.15,0.2,0.25,0.3,0.35,0.4,0.45,0.5,0.55,0.6,0.65,0.7,0.75,0.8,0.85,0.9,0.95,1.0],
      "tickSize": {"condition": {"test": "round(datum.value*100) % 20 === 0", "value": 20}, "value": 8},
      "labelExpr": "round(datum.value*100) % 20 === 0 ? format(datum.value, '.1f') : ''",
      "labelFontSize": 36, "labelColor": "#444444", "labelPadding": 10, "labelFlush": false, "labelOverlap": false, "labelBound": false,
      "domainColor": "black", "domainWidth": 4, "tickColor": "black", "tickWidth": 3, "grid": false,
      "titleFontSize": 51, "titleFontWeight": "bold", "titleColor": "black", "titlePadding": 38}},
  "color": {"field": "s", "type": "nominal",
    "scale": {"domain": ["GNRs", "GNR-Gal-PHEA35", "GNR-Gal-PHEA60"], "range": ["#ff0000", "#0000ff", "#00ff00"]},
    "legend": {"title": null, "orient": "none", "legendX": 97, "legendY": -129, "direction": "horizontal",
      "symbolType": "stroke", "symbolSize": 3600, "symbolStrokeWidth": 6, "labelFontSize": 46, "labelColor": "black",
      "labelOffset": 9, "columnPadding": 10, "padding": 12, "strokeColor": "black", "labelLimit": 600}},
  "strokeDash": {"datum": "LS", "scale": {"range": [[1, 0]]},
    "legend": {"title": "\u00a0", "titleOrient": "right", "titleFontSize": 8, "titlePadding": 17,
      "orient": "none", "legendX": 1401, "legendY": 13,
      "symbolType": "stroke", "symbolSize": 529, "symbolStrokeWidth": 3, "symbolStrokeColor": "black", "symbolOffset": -10,
      "labelFontSize": 44, "labelColor": "black", "labelOffset": -1, "padding": 10, "strokeColor": "black"}}
},
"config": {
  "font": "Liberation Sans",
  "view": {"stroke": "black", "strokeWidth": 3},
  "legend": {"strokeWidth": 3}
}
}
